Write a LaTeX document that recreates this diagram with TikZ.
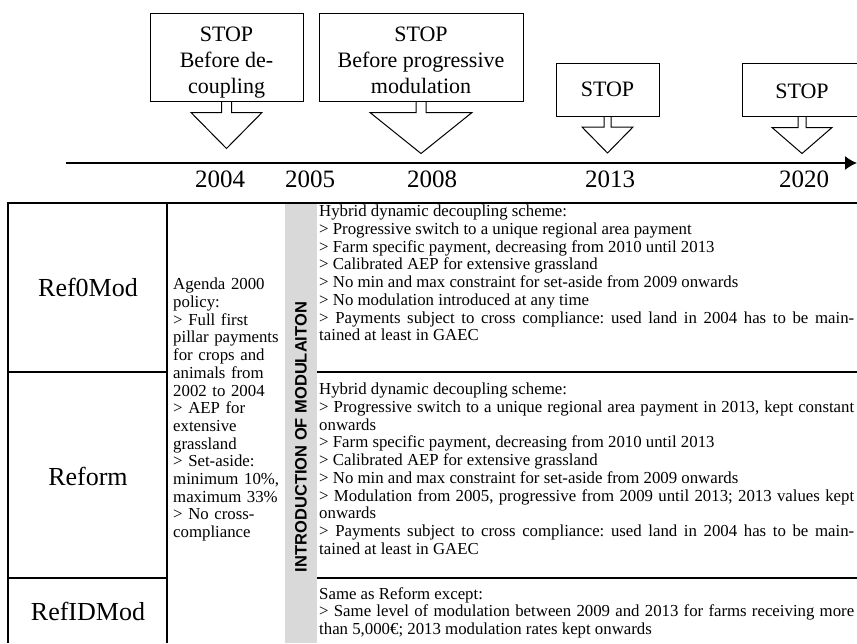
\documentclass[tikz,border=0pt]{standalone}
\usepackage{fontspec}
\setmainfont{Liberation Serif}
\setsansfont{Liberation Sans}
\usepackage{tikz}
\usetikzlibrary{arrows.meta, positioning}
\definecolor{bandgray}{RGB}{217, 217, 217}
\setlength{\parindent}{0pt}
\setlength{\parskip}{0pt}
\frenchspacing

\begin{document}
\begin{tikzpicture}[x=1pt, y=-1pt,
  stopbox/.style={draw, line width=1pt, inner sep=0pt},
  stoptext/.style={align=center, inner sep=0pt, font=\fontsize{22}{26}\selectfont},
  stoparrow/.style={draw, line width=1pt, line join=miter},
  yearlbl/.style={font=\fontsize{25}{30}\selectfont, inner sep=0pt},
  axis/.style={-{Latex[length=12pt, width=14pt]}, line width=1.5pt},
  rule/.style={line width=1.2pt},
  scen/.style={font=\fontsize{26}{30}\selectfont, inner sep=0pt},
  policy/.style={font=\fontsize{16.8}{17.7}\selectfont, inner sep=0pt,
                 anchor=north west, text width=112pt, align=left},
  body/.style={font=\fontsize{16.8}{17.7}\selectfont, inner sep=0pt,
               anchor=north west, text width=535pt, align=justify},
  band/.style={font=\sffamily\bfseries\fontsize{16.5}{18}\selectfont,
               rotate=90, inner sep=0pt}]
  \clip (0,0) rectangle (857,643);

  % timeline
  \coordinate (tstart) at (66,163);
  \coordinate (tend)   at (857,163);
  \draw[axis] (tstart) -- (tend);
  \node[yearlbl] (y04) at (220,179) {2004};
  \node[yearlbl] (y05) at (310,179) {2005};
  \node[yearlbl] (y08) at (432,179) {2008};
  \node[yearlbl] (y13) at (610,179) {2013};
  \node[yearlbl] (y20) at (804,179) {2020};

  % stop signs
  \node[stopbox, minimum width=153pt, minimum height=88pt] (s04) at (226.5,57) {};
  \node[stoptext, below=14pt of s04.north] (s04t) {STOP\\Before de-\\coupling};
  \draw[stoparrow] (s04.south) ++(-5,0) -- ++(0,11) -- ++(-30.5,0) -- ++(35.5,36)
    -- ++(35.5,-36) -- ++(-30.5,0) -- ++(0,-11);
  \node[stopbox, minimum width=204pt, minimum height=88pt] (s08) at (421,57) {};
  \node[stoptext, below=14pt of s08.north] (s08t) {STOP\\Before progressive\\modulation};
  \draw[stoparrow] (s08.south) ++(-5,0) -- ++(0,11) -- ++(-46,0) -- ++(51,41)
    -- ++(51,-41) -- ++(-46,0) -- ++(0,-11);
  \node[stopbox, minimum width=103pt, minimum height=53pt] (s13) at (607.5,90) {};
  \node[stoptext, below=19pt of s13.north] (s13t) {STOP};
  \draw[stoparrow] (s13.south) ++(-3.5,0) -- ++(0,10) -- ++(-22,0) -- ++(25.5,26)
    -- ++(25.5,-26) -- ++(-22,0) -- ++(0,-10);
  \node[stopbox, minimum width=120pt, minimum height=53pt] (s20) at (802,89.5) {};
  \node[stoptext, below=21pt of s20.north] (s20t) {STOP};
  \draw[stoparrow] (s20.south) ++(-4,0) -- ++(0,11) -- ++(-26,0) -- ++(30,26)
    -- ++(30,-26) -- ++(-26,0) -- ++(0,-11);

  % table
  \fill[bandgray] (285,203) rectangle (317,643);
  \draw[rule] (8,643) -- (8,203) -- (857,203);
  \draw[rule] (167,203) -- (167,643);
  \draw[rule] (8,372) -- (167,372);
  \draw[rule] (317,372) -- (857,372);
  \draw[rule] (8,578) -- (167,578);
  \draw[rule] (317,578) -- (857,578);

  \node[scen] (ref0) at (88,287) {Ref0Mod};
  \node[scen] (reform) at (88,476) {Reform};
  \node[scen] (refid) at (88,611) {RefIDMod};

  \node[policy] (agenda) at (173,278)
    {Agenda 2000\\policy:\\> Full first\\pillar payments\\for crops and\\animals from\\2002 to 2004\\> AEP for\\extensive\\grassland\\> Set-aside:\\minimum 10\%,\\maximum 33\%\\> No cross-\\compliance};
  \node[band] (modul) at (301,437) {INTRODUCTION OF MODULAITON};

  \node[body] (txt0) at (319,205)
    {Hybrid dynamic decoupling scheme:\par
     > Progressive switch to a unique regional area payment\par
     > Farm specific payment, decreasing from 2010 until 2013\par
     > Calibrated AEP for extensive grassland\par
     > No min and max constraint for set-aside from 2009 onwards\par
     > No modulation introduced at any time\par
     > Payments subject to cross compliance: used land in 2004 has to be main-\linebreak
     tained at least in GAEC};
  \node[body] (txtref) at (319,383)
    {Hybrid dynamic decoupling scheme:\par
     > Progressive switch to a unique regional area payment in 2013, kept constant\linebreak
     onwards\par
     > Farm specific payment, decreasing from 2010 until 2013\par
     > Calibrated AEP for extensive grassland\par
     > No min and max constraint for set-aside from 2009 onwards\par
     > Modulation from 2005, progressive from 2009 until 2013; 2013 values kept\linebreak
     onwards\par
     > Payments subject to cross compliance: used land in 2004 has to be main-\linebreak
     tained at least in GAEC};
  \node[body] (txtid) at (319,587)
    {Same as Reform except:\par
     > Same level of modulation between 2009 and 2013 for farms receiving more\linebreak
     than 5,000€; 2013 modulation rates kept onwards};
\end{tikzpicture}
\end{document}
